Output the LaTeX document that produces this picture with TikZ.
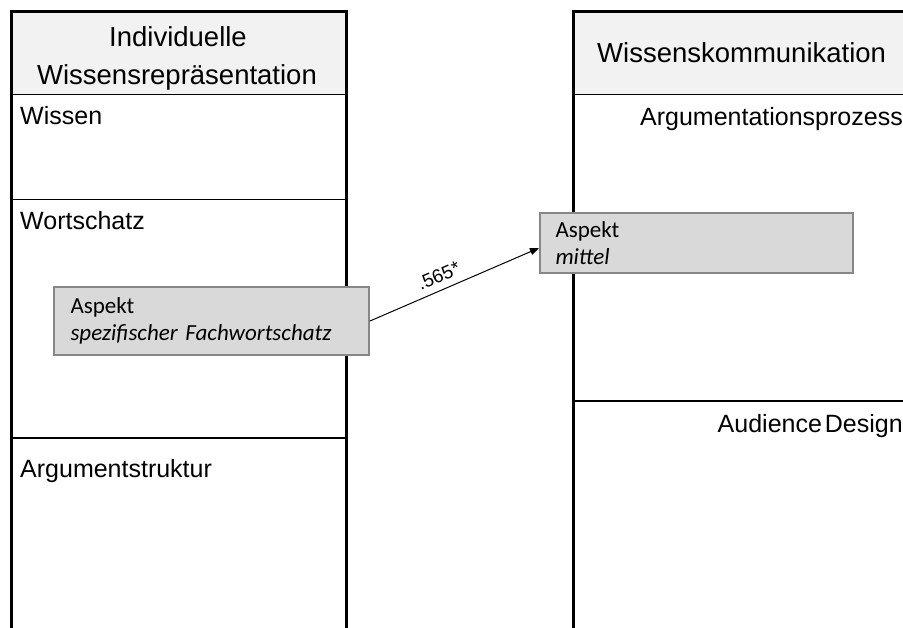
\documentclass[tikz,border=0pt]{standalone}
\usepackage{fontspec}
\setmainfont{Liberation Sans}
\newfontfamily\carlito{Carlito}
\usetikzlibrary{arrows.meta}
\definecolor{hdr}{HTML}{F2F2F2}
\definecolor{boxfill}{HTML}{D9D9D9}
\definecolor{boxline}{HTML}{878787}
\begin{document}
\begin{tikzpicture}[x=1pt,y=-1pt,
 colborder/.style={line width=3.5pt},
 divider/.style={line width=1.4pt},
 hdrtext/.style={font=\fontsize{27.5}{38}\selectfont, inner sep=0pt},
 sectext/.style={font=\fontsize{25}{30}\selectfont, inner sep=0pt},
 aspekt/.style={draw=boxline, line width=2pt, fill=boxfill, align=left, text width=282pt,
   font=\carlito\fontsize{23}{27}\selectfont, inner xsep=0pt, inner ysep=0pt},
 link/.style={line width=1pt, -{Triangle[length=9pt,width=7pt]}},
 lbl/.style={font=\fontsize{19}{22}\selectfont, inner sep=1pt}
]
\useasboundingbox (0,0) rectangle (903,628);
% left column
\fill[hdr] (11.5,11.5) rectangle (346.5,94.5);
\draw[divider] (11.5,94.5) -- (346.5,94.5);
\draw[divider] (11.5,199.5) -- (346.5,199.5);
\draw[divider] (11.5,438) -- (346.5,438);
\draw[colborder] (11.5,628) -- (11.5,11.5) -- (346.5,11.5) -- (346.5,628);
\node[hdrtext, anchor=base] (h1a) at (178,47) {Individuelle};
\node[hdrtext, anchor=base] (h1b) at (177,85) {Wissensrepräsentation};
\node[sectext, anchor=base west] (s1) at (20,125) {Wissen};
\node[sectext, anchor=base west] (s2) at (20,230) {Wortschatz};
\node[sectext, anchor=base west] (s3) at (20,477) {Argumentstruktur};
% right column
\fill[hdr] (573.5,11.5) rectangle (903,94.5);
\draw[divider] (573.5,94.5) -- (903,94.5);
\draw[divider] (573.5,401) -- (903,401);
\draw[colborder] (573.5,628) -- (573.5,11.5) -- (903,11.5);
\node[hdrtext, anchor=base west] (h2) at (597,63) {Wissenskommunikation};
\node[sectext, anchor=base east] (s4) at (903,126) {Argumentationsprozess};
\node[sectext, anchor=base east] (s5) at (903,432) {Audience\hspace{0.12em}Design};
% aspect boxes
\node[aspekt, minimum width=315pt, minimum height=68pt] (lbox) at (211.5,321) {Aspekt\\\textit{spezifischer Fachwortschatz}};
\node[aspekt, minimum width=313pt, minimum height=60pt] (rbox) at (696.5,243) {Aspekt\\\textit{mittel}};
% connector
\draw[link] (lbox.east) -- node[lbl, sloped, above=6pt, pos=0.44] (corr) {.565*} ([yshift=-5pt]rbox.west);
\end{tikzpicture}
\end{document}
